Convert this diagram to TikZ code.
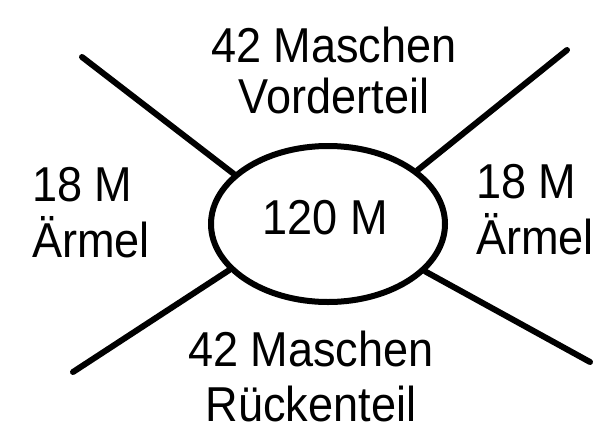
\documentclass[tikz,border=0pt]{standalone}
\usepackage{fontspec}
\setmainfont[FakeStretch=0.92]{Liberation Sans}
\usetikzlibrary{shapes.geometric}

\begin{document}
\begin{tikzpicture}[x=1pt, y=-1pt,
  lbl/.style={inner sep=0pt, font=\fontsize{49}{56}\selectfont},
  spoke/.style={line width=6pt, line cap=round}]
		\useasboundingbox (0,0) rectangle (601,425);
		%%%%%%%%%%%%%
		\node[draw, ellipse, line width=6pt, inner sep=0pt,
		      minimum width=234pt, minimum height=156pt] (round) at (328,224) {};
		\node[lbl, anchor=base] (total) at (325,234) {120 M};
		\node[lbl, font=\fontsize{49}{51}\selectfont, anchor=north, align=center] (front) at (334,27) {42 Maschen\\Vorderteil};
		\node[lbl, font=\fontsize{49}{55}\selectfont, anchor=north, align=center] (back) at (311,331) {42 Maschen\\Rückenteil};
		\node[lbl, anchor=north west, align=left] (sleeveL) at (32,167) {18 M\\Ärmel};
		\node[lbl, anchor=north west, align=left] (sleeveR) at (476,164) {18 M\\Ärmel};
		%%%%%%%%%%%%%
		\coordinate (ul) at (82,57); \coordinate (ur) at (567,50);
		\coordinate (ll) at (73,372); \coordinate (lr) at (590,362);
		\draw [spoke] (ul) -- (round.152.5); \draw [spoke] (ur) -- (round.31.8);
		\draw [spoke] (ll) -- (round.205); \draw [spoke] (lr) -- (round.334);
\end{tikzpicture}
\end{document}
